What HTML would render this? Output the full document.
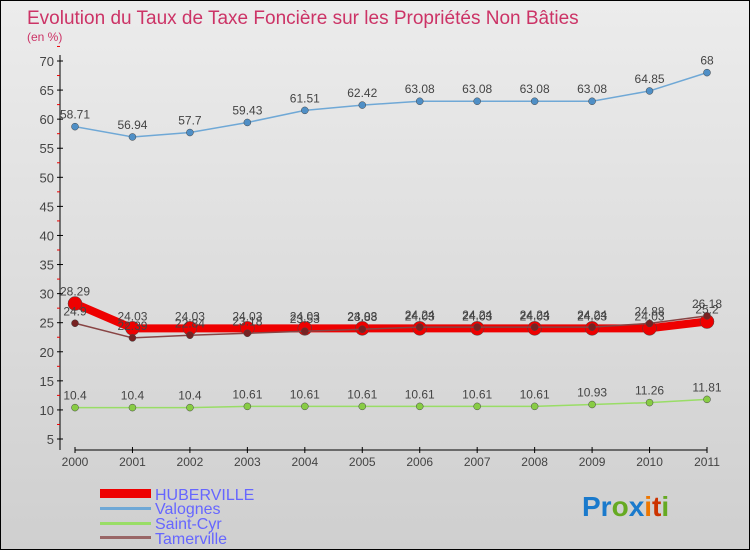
<!DOCTYPE html>
<html><head><meta charset="utf-8"><style>
body{margin:0}
svg{display:block;font-family:"Liberation Sans",sans-serif}
</style></head><body>
<svg width="750" height="550">
<defs><linearGradient id="bg" x1="0" y1="0" x2="0" y2="1"><stop offset="0" stop-color="#ececec"/><stop offset="1" stop-color="#cfcfcf"/></linearGradient></defs>
<rect x="0.5" y="0.5" width="749" height="549" fill="url(#bg)" stroke="#000"/>
<text x="27" y="24" font-size="19" fill="#cc3366">Evolution du Taux de Taxe Foncière sur les Propriétés Non Bâties</text>
<text x="27" y="41" font-size="12" fill="#cc3366">(en %)</text>
<g id="axes"></g>
<g id="series"></g>
<g>
<rect x="100" y="489" width="51" height="9" fill="#ee0000"/>
<text x="155" y="500" font-size="16" fill="#6666ff">HUBERVILLE</text>
<rect x="100" y="507" width="51" height="3" fill="#6fa8d6"/>
<text x="155" y="514" font-size="16" fill="#6666ff">Valognes</text>
<rect x="100" y="522" width="51" height="3" fill="#99dd66"/>
<text x="155" y="529" font-size="16" fill="#6666ff">Saint-Cyr</text>
<rect x="100" y="536" width="51" height="3" fill="#996666"/>
<text x="155" y="544" font-size="16" fill="#6666ff">Tamerville</text>
</g>
<text x="582" y="516" font-size="28" font-weight="bold"><tspan fill="#1a7acc">Pr</tspan><tspan fill="#66aa22">o</tspan><tspan fill="#1a7acc">x</tspan><tspan fill="#ee7700">i</tspan><tspan fill="#cc3300">t</tspan><tspan fill="#66aa22">i</tspan></text>
</svg>
<script>
const years=[2000,2001,2002,2003,2004,2005,2006,2007,2008,2009,2010,2011];
const yTicks=[5,10,15,20,25,30,35,40,45,50,55,60,65,70];
const valognes=[58.71,56.94,57.7,59.43,61.51,62.42,63.08,63.08,63.08,63.08,64.85,68];
const saintCyr=[10.4,10.4,10.4,10.61,10.61,10.61,10.61,10.61,10.61,10.93,11.26,11.81];
const tamerville=[24.9,22.39,22.84,23.18,23.53,23.88,24.24,24.24,24.24,24.24,24.88,26.18];
const huberville=[28.29,24.03,24.03,24.03,24.03,24.03,24.03,24.03,24.03,24.03,24.03,25.2];
const NS="http://www.w3.org/2000/svg";
const X=i=>75+i*(707-75)/11;
const Y=v=>439-(v-5)*(378/65);
function mk(t,a,p){const e=document.createElementNS(NS,t);for(const k in a)e.setAttribute(k,a[k]);p.appendChild(e);return e;}
const ax=document.getElementById('axes');
const yl=mk('line',{x1:60,y1:55,x2:60,y2:450,stroke:'#000'},ax);


yTicks.forEach(v=>{
 const t=mk('line',{x1:57,x2:63,y1:Y(v),y2:Y(v),stroke:'#000'},ax);
 
 
 const m=mk('line',{x1:57,x2:60,y1:Y(v+2.5),y2:Y(v+2.5),stroke:'#e00'},ax);
 
 
 const l=mk('text',{x:54,y:Y(v)+5,'text-anchor':'end','font-size':13,fill:'#444'},ax);
 l.textContent=v;
 
 
});
const xl=mk('line',{x1:75,y1:450,x2:707,y2:450,stroke:'#000'},ax);


years.forEach((y,i)=>{
 const t=mk('line',{x1:X(i),x2:X(i),y1:447,y2:453,stroke:'#000'},ax);
 
 
 const l=mk('text',{x:X(i),y:466,'text-anchor':'middle','font-size':12,fill:'#444'},ax);
 l.textContent=y;
 
 
});
const sg=document.getElementById('series');
function series(name,vals,color,w,r,dot){
 const g=mk('g',{},sg);
 
 
 const p=mk('polyline',{points:vals.map((v,i)=>X(i)+','+Y(v)).join(' '),fill:'none',stroke:color,'stroke-width':w,'stroke-linejoin':'round'},g);
 
 
 vals.forEach((v,i)=>{
  const c=mk('circle',{cx:X(i),cy:Y(v),r:r,fill:dot,stroke:'#444','stroke-width':0.5},g);
  
  
  const t=mk('text',{x:X(i),y:Y(v)-8,'text-anchor':'middle','font-size':12,fill:'#444'},g);
  t.textContent=v;
  
  
 });
}
series('valognes',valognes,'#6fa8d6',1.5,3.5,'#4f8fc6');
series('saint-cyr',saintCyr,'#99dd66',1.5,3.5,'#88cc44');
series('huberville',huberville,'#ee0000',8,7,'#ee0000');
series('tamerville',tamerville,'#884444',1.5,3.5,'#772222');
</script>
</body></html>
